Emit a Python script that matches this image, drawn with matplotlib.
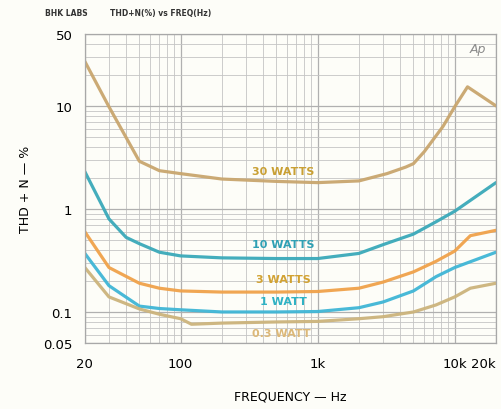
import matplotlib
matplotlib.use("Agg")
import matplotlib.pyplot as plt
from matplotlib.ticker import LogLocator, FixedLocator, NullFormatter

# Frequency response of THD+N at five output levels
freq_30w = [20, 30, 50, 70, 100, 200, 500, 1000, 2000, 3200, 4400, 5000, 6000, 8200, 10000, 12400, 20000]
thd_30w = [27, 9.8, 2.9, 2.35, 2.2, 1.95, 1.85, 1.8, 1.87, 2.2, 2.55, 2.75, 3.6, 6.3, 9.8, 15.3, 10]

freq_10w = [20, 30, 40, 50, 70, 100, 200, 500, 1000, 2000, 3000, 5000, 7300, 10000, 20000]
thd_10w = [2.3, 0.8, 0.53, 0.46, 0.38, 0.35, 0.335, 0.33, 0.33, 0.37, 0.45, 0.57, 0.75, 0.95, 1.8]

freq_3w = [20, 30, 50, 70, 100, 200, 500, 1000, 2000, 3000, 5000, 7300, 10000, 13000, 20000]
thd_3w = [0.6, 0.27, 0.19, 0.17, 0.16, 0.156, 0.156, 0.158, 0.17, 0.195, 0.245, 0.31, 0.39, 0.55, 0.62]

freq_1w = [20, 30, 50, 70, 100, 200, 500, 1000, 2000, 3000, 5000, 7300, 10000, 20000]
thd_1w = [0.37, 0.18, 0.114, 0.108, 0.105, 0.1, 0.1, 0.101, 0.11, 0.125, 0.16, 0.22, 0.27, 0.38]

freq_03w = [20, 30, 50, 70, 100, 120, 200, 500, 1000, 2000, 3000, 5000, 7300, 10000, 13000, 20000]
thd_03w = [0.27, 0.14, 0.107, 0.095, 0.086, 0.076, 0.078, 0.08, 0.081, 0.086, 0.09, 0.1, 0.117, 0.14, 0.17, 0.19]

series_labels = ["30 WATTS", "10 WATTS", "3 WATTS", "1 WATT", "0.3 WATT"]
label_pos = [(560, 2.35), (560, 0.46), (560, 0.21), (560, 0.128), (540, 0.062)]

x_ticks = [20, 100, 1000, 10000, 20000]
x_tick_labels = ["20", "100", "1k", "10k", "20k"]
y_ticks = [0.05, 0.1, 1, 10, 50]
y_tick_labels = ["0.05", "0.1", "1", "10", "50"]

line_colors = ["#c9a66e", "#3aa9b9", "#f0a24a", "#3fb6d6", "#ccb47c"]
text_colors = ["#c9a034", "#2fa0b4", "#d2a232", "#2fb2c4", "#dcb878"]

fig = plt.figure(figsize=(5.02, 4.10), dpi=100, facecolor="#fdfdf8")
ax = fig.add_axes([0.169, 0.161, 0.819, 0.754])
ax.set_facecolor("#fdfdf8")

ax.set_xscale("log")
ax.set_yscale("log")
ax.set_xlim(20, 20000)
ax.set_ylim(0.05, 50)

ax.xaxis.set_minor_locator(LogLocator(base=10, subs=range(2, 10)))
ax.yaxis.set_minor_locator(LogLocator(base=10, subs=range(2, 10)))
ax.xaxis.set_minor_formatter(NullFormatter())
ax.yaxis.set_minor_formatter(NullFormatter())
ax.xaxis.set_major_locator(FixedLocator(x_ticks))
ax.yaxis.set_major_locator(FixedLocator(y_ticks))
ax.set_xticklabels(x_tick_labels)
ax.set_yticklabels(y_tick_labels)

ax.grid(which="major", color="#b0b0b0", lw=0.9)
ax.grid(which="minor", color="#c4c4c4", lw=0.6)
ax.tick_params(which="both", length=0)
ax.tick_params(axis="x", pad=10, labelsize=9.5)
ax.tick_params(axis="y", pad=9, labelsize=9.5)
for s in ax.spines.values():
    s.set_color("#a8a8a8")
    s.set_linewidth(0.9)

# keep the last frequency label inside the canvas
xlabels = ax.get_xticklabels()
xlabels[-1].set_horizontalalignment("right")
xlabels[-1].set_x(20000)

series = [(freq_30w, thd_30w), (freq_10w, thd_10w), (freq_3w, thd_3w),
          (freq_1w, thd_1w), (freq_03w, thd_03w)]
for (f, v), c in zip(series, line_colors):
    ax.plot(f, v, color=c, lw=2.3, solid_capstyle="round", solid_joinstyle="round", alpha=0.95)

for lab, (fx, fy), c in zip(series_labels, label_pos, text_colors):
    ax.text(fx, fy, lab, color=c, fontsize=8, fontweight="bold", ha="center", va="center")

ax.text(0.975, 0.975, "Ap", transform=ax.transAxes, ha="right", va="top",
        fontsize=9, style="italic", color="#8a8a8a")

ax.set_xlabel("FREQUENCY — Hz", fontsize=9, labelpad=14)
ax.set_ylabel("THD + N — %", fontsize=9, labelpad=8)

fig.text(0.09, 0.962, "BHK LABS", fontsize=5.5, fontweight="bold", color="#333333")
fig.text(0.22, 0.962, "THD+N(%) vs FREQ(Hz)", fontsize=5.5, fontweight="bold", color="#333333")

fig.savefig("out.png", dpi=100, facecolor=fig.get_facecolor())
